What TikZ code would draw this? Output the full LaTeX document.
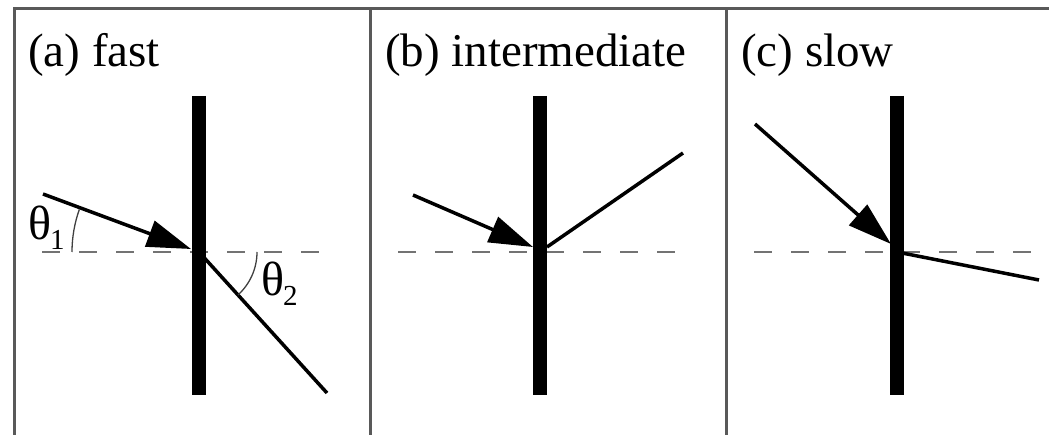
\documentclass[tikz,border=0pt]{standalone}
\usepackage{fontspec}
\setmainfont{Liberation Serif}
\usetikzlibrary{arrows.meta}
\newcommand{\thsub}[1]{θ\kern-1pt\raisebox{-0.2em}{\fontsize{29}{29}\selectfont #1}}
\begin{document}
\begin{tikzpicture}[x=1pt,y=-1pt,
  frameline/.style={draw=black!65, line width=3pt},
  barline/.style={line width=14pt, line cap=butt},
  rayline/.style={line width=3.5pt},
  arrowray/.style={rayline, -{Triangle[length=44pt,width=27pt]}},
  axisline/.style={draw=black!55, line width=2.2pt, dash pattern=on 18pt off 19pt},
  anglearc/.style={draw=black!75, line width=1.3pt},
  lbl/.style={inner sep=0pt, font=\fontsize{47}{50}\selectfont},
  thlbl/.style={inner sep=0pt, font=\fontsize{48}{50}\selectfont}]
\useasboundingbox (0,0) rectangle (1049,435);
% frames
\draw[frameline] (14,440) -- (14,9) -- (1052,9);
\draw[frameline] (370,9) -- (370,440);
\draw[frameline] (726,9) -- (726,440);
% labels
\node[lbl, anchor=base west] (la) at (28,67) {(a) fast};
\node[lbl, anchor=base west] (lb) at (385,67) {(b) intermediate};
\node[lbl, anchor=base west] (lc) at (741,67) {(c) slow};
% ---- panel a
\coordinate (aT) at (199,96);
\coordinate (aB) at (199,395);
\coordinate (aO) at (199,252);
\coordinate (aL) at (42,252);
\coordinate (aR) at (328,252);
\coordinate (aIn) at (43,194);
\coordinate (aTip) at (191,249);
\coordinate (aOut) at (327,393);
\draw[axisline] (aL) -- (aR);
\draw[barline] (aT) -- (aB);
\draw[arrowray] (aIn) -- (aTip);
\draw[rayline] (aO) -- (aOut);
\draw[anglearc] ([shift={(180:127)}]aO) arc[start angle=180, end angle=199.6, radius=127];
\draw[anglearc] ([shift={(0:58)}]aO) arc[start angle=0, end angle=47.8, radius=58];
\node[thlbl, anchor=base west] (th1) at (28,240) {\thsub{1}};
\node[thlbl, anchor=base west] (th2) at (261,296) {\thsub{2}};
% ---- panel b
\coordinate (bT) at (540,96);
\coordinate (bB) at (540,395);
\coordinate (bL) at (398,252);
\coordinate (bR) at (683,252);
\coordinate (bIn) at (413,195);
\coordinate (bTip) at (533,247);
\coordinate (bS) at (547,247);
\coordinate (bOut) at (683,153);
\draw[axisline] (bL) -- (bR);
\draw[barline] (bT) -- (bB);
\draw[arrowray] (bIn) -- (bTip);
\draw[rayline] (bS) -- (bOut);
% ---- panel c
\coordinate (cT) at (897,96);
\coordinate (cB) at (897,395);
\coordinate (cO) at (897,252);
\coordinate (cL) at (754,252);
\coordinate (cR) at (1040,252);
\coordinate (cIn) at (755,124);
\coordinate (cTip) at (891,244);
\coordinate (cOut) at (1039,280);
\draw[axisline] (cL) -- (cR);
\draw[barline] (cT) -- (cB);
\draw[arrowray] (cIn) -- (cTip);
\draw[rayline] (cO) -- (cOut);
\end{tikzpicture}
\end{document}
